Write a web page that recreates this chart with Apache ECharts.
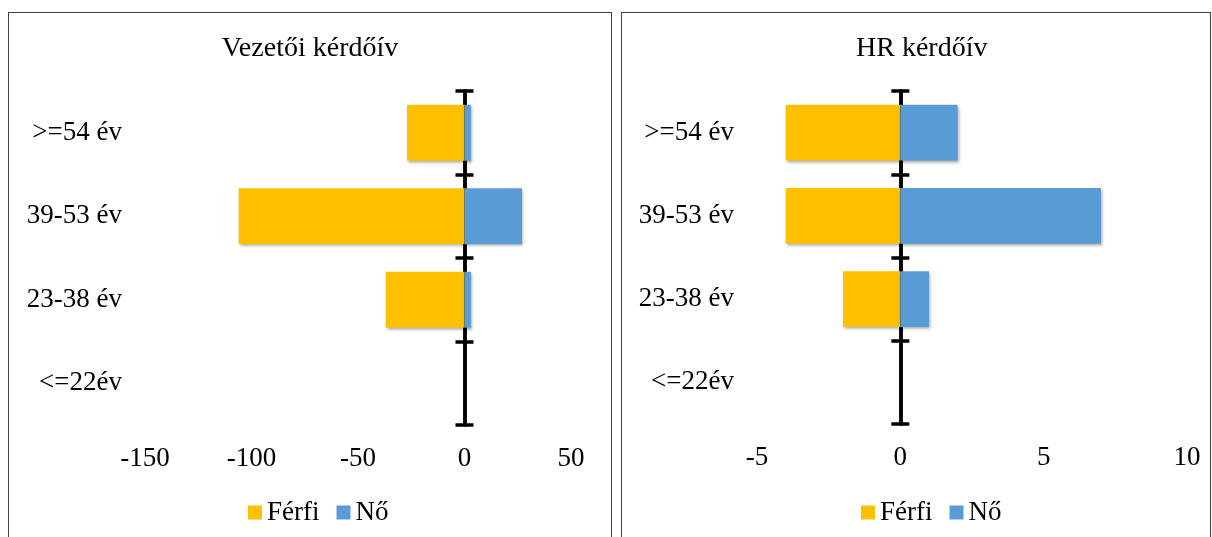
<!DOCTYPE html>
<html>
<head>
<meta charset="utf-8">
<script src="https://cdn.jsdelivr.net/npm/echarts@6/dist/echarts.min.js"></script>
<style>
  html, body { margin: 0; padding: 0; background: #fff; width: 1212px; height: 537px; overflow: hidden; }
  .panel { position: absolute; box-sizing: border-box; border: 1px solid #404040; background: #fff; }
  .chart { width: 100%; height: 100%; }
</style>
</head>
<body>
<div class="panel" style="left:8px; top:12px; width:604px; height:540px;"><div id="c1" class="chart"></div></div>
<div class="panel" style="left:621px; top:12px; width:590px; height:540px;"><div id="c2" class="chart"></div></div>
<script>
// Categories bottom-to-top (ECharts category y-axis starts at the bottom)
const categories = ['<=22év', '23-38 év', '39-53 év', '>=54 év'];
const seriesNames = ['Férfi', 'Nő'];
// Vezetői kérdőív
const vezetoFerfi = [0, -37, -106, -27];
const vezetoNo = [0, 3, 27, 3];
const vezetoAxis = { min: -150, max: 50, interval: 50 };
// HR kérdőív
const hrFerfi = [0, -2, -4, -4];
const hrNo = [0, 1, 7, 2];
const hrAxis = { min: -5, max: 10, interval: 5 };

const titles = ['Vezetői kérdőív', 'HR kérdőív'];
const colors = ['#FFC000', '#5B9BD5'];
const FONT = 'Liberation Serif, Times New Roman, serif';
const FS = 27;

function makeOption(title, ferfi, no, axis, grid, legendLeft, titleLeft) {
  const barStyle = (c) => ({
    color: c,
    shadowColor: 'rgba(0,0,0,0.35)',
    shadowBlur: 3,
    shadowOffsetX: 1,
    shadowOffsetY: 2
  });
  const tickAxis = (inside) => ({
    type: 'category',
    data: categories,
    position: 'left',
    axisLine: { show: true, onZero: true, onZeroAxisIndex: 0, lineStyle: { color: '#000', width: 3.5 } },
    axisTick: { show: true, inside: inside, length: 9, lineStyle: { color: '#000', width: 3.5 } },
    axisLabel: { show: false },
    splitLine: { show: false }
  });
  return {
    animation: false,
    textStyle: { fontFamily: FONT },
    title: {
      text: title,
      left: titleLeft,
      top: 17,
      textStyle: { fontFamily: FONT, fontSize: 28, fontWeight: 'normal', color: '#000' }
    },
    legend: {
      data: seriesNames,
      left: legendLeft,
      top: 481,
      itemWidth: 14,
      itemHeight: 14,
      itemGap: 17,
      icon: 'rect',
      textStyle: { fontFamily: FONT, fontSize: FS, color: '#000' }
    },
    grid: grid,
    xAxis: {
      type: 'value',
      min: axis.min,
      max: axis.max,
      interval: axis.interval,
      axisLine: { show: false },
      axisTick: { show: false },
      splitLine: { show: false },
      axisLabel: { fontFamily: FONT, fontSize: FS, color: '#000', margin: 20 }
    },
    yAxis: [
      {
        type: 'category',
        data: categories,
        position: 'left',
        axisLine: { show: false, onZero: false },
        axisTick: { show: false },
        axisLabel: { fontFamily: FONT, fontSize: FS, color: '#000', margin: 23 }
      },
      tickAxis(false),
      tickAxis(true)
    ],
    series: [
      {
        name: seriesNames[0], type: 'bar', stack: 'total', data: ferfi,
        yAxisIndex: 0, barCategoryGap: '33%', itemStyle: barStyle(colors[0]), z: 1
      },
      {
        name: seriesNames[1], type: 'bar', stack: 'total', data: no,
        yAxisIndex: 0, barCategoryGap: '33%', itemStyle: barStyle(colors[1]), z: 1
      }
    ]
  };
}

const c1 = echarts.init(document.getElementById('c1'), null, { renderer: 'canvas' });
c1.setOption(makeOption(titles[0], vezetoFerfi, vezetoNo, vezetoAxis,
  { left: 136, top: 78, width: 426, height: 334, containLabel: false }, 234, 'center'));

const c2 = echarts.init(document.getElementById('c2'), null, { renderer: 'canvas' });
c2.setOption(makeOption(titles[1], hrFerfi, hrNo, hrAxis,
  { left: 135, top: 78, width: 430, height: 333, containLabel: false }, 234, 229));
</script>
</body>
</html>
